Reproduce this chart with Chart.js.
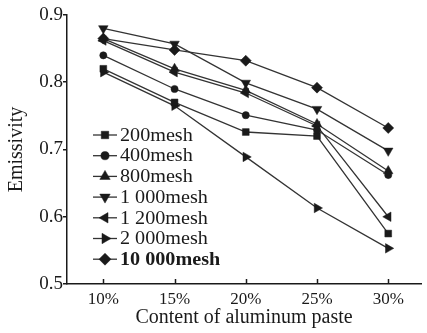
<!DOCTYPE html>
<html>
<head>
<meta charset="utf-8">
<script src="https://cdn.jsdelivr.net/npm/chart.js@4/dist/chart.umd.min.js"></script>
<style>
  html, body { margin: 0; padding: 0; background: #fff; overflow: hidden; }
</style>
</head>
<body>
<canvas id="chart" width="427" height="333"></canvas>
<script>
// content of aluminum paste (%)
const contents = [10, 15, 20, 25, 30];
const yTicks = [0.5, 0.6, 0.7, 0.8, 0.9];

const meshLabels = ['200mesh', '400mesh', '800mesh', '1 000mesh', '1 200mesh', '2 000mesh', '10 000mesh'];

// emissivity per mesh size
const mesh200   = [0.820, 0.770, 0.726, 0.720, 0.575];
const mesh400   = [0.840, 0.790, 0.751, 0.729, 0.662];
const mesh800   = [0.865, 0.820, 0.788, 0.738, 0.668];
const mesh1000  = [0.880, 0.857, 0.799, 0.760, 0.698];
const mesh1200  = [0.862, 0.815, 0.784, 0.735, 0.600];
const mesh2000  = [0.815, 0.765, 0.689, 0.613, 0.553];
const mesh10000 = [0.865, 0.848, 0.832, 0.792, 0.732];

const seriesList = [mesh200, mesh400, mesh800, mesh1000, mesh1200, mesh2000, mesh10000];

// marker look for each series (same order as above)
const markers = [
  { pointStyle: 'rect', radius: 4.8, rotation: 0 },
  { pointStyle: 'circle', radius: 3.6, rotation: 0 },
  { pointStyle: 'triangle', radius: 5.5, rotation: 0 },
  { pointStyle: 'triangle', radius: 5.5, rotation: 180 },
  { pointStyle: 'triangle', radius: 5.5, rotation: -90 },
  { pointStyle: 'triangle', radius: 5.5, rotation: 90 },
  { pointStyle: 'rectRot', radius: 5.5, rotation: 0 },
];

const INK = '#1a1a1a';
const SERIF = '"Liberation Serif", "Times New Roman", serif';

const datasets = seriesList.map((vals, i) => ({
  label: meshLabels[i],
  data: contents.map((x, j) => ({ x: x, y: vals[j] })),
  borderColor: '#333',
  borderWidth: 1.3,
  backgroundColor: INK,
  pointBackgroundColor: INK,
  pointBorderColor: INK,
  pointBorderWidth: 0.5,
  pointStyle: markers[i].pointStyle,
  pointRadius: markers[i].radius,
  pointRotation: markers[i].rotation,
  tension: 0,
  clip: false,
}));

// small inward ticks on the x axis + the legend with line/marker samples
const extras = {
  id: 'extras',
  afterDraw(chart) {
    const ctx = chart.ctx;
    const xs = chart.scales.x;
    const bottom = chart.chartArea.bottom;
    ctx.save();
    ctx.strokeStyle = INK;
    ctx.lineWidth = 1.5;
    contents.forEach(v => {
      const px = Math.round(xs.getPixelForValue(v)) + 0.5;
      ctx.beginPath();
      ctx.moveTo(px, bottom);
      ctx.lineTo(px, bottom - 5);
      ctx.stroke();
    });

    // legend
    const x0 = 93, rowH = 20.7, y0 = 135;
    meshLabels.forEach((lab, i) => {
      const y = y0 + i * rowH;
      ctx.strokeStyle = '#333';
      ctx.lineWidth = 1.3;
      ctx.beginPath();
      ctx.moveTo(x0, y);
      ctx.lineTo(x0 + 24, y);
      ctx.stroke();
      ctx.fillStyle = INK;
      ctx.strokeStyle = INK;
      ctx.lineWidth = 0.5;
      Chart.helpers.drawPoint(ctx, {
        pointStyle: markers[i].pointStyle,
        radius: markers[i].radius + 0.5,
        rotation: markers[i].rotation,
        borderWidth: 0.5,
      }, x0 + 12, y);
      ctx.fillStyle = INK;
      ctx.font = (i === meshLabels.length - 1 ? 'bold ' : '') + '18px ' + SERIF;
      ctx.textBaseline = 'middle';
      ctx.textAlign = 'left';
      ctx.save();
      ctx.translate(x0 + 27, y + 1);
      ctx.scale(1.12, 1);
      ctx.fillText(lab, 0, 0);
      ctx.restore();
    });
    ctx.restore();
  }
};

new Chart(document.getElementById('chart'), {
  type: 'line',
  data: { datasets: datasets },
  options: {
    responsive: false,
    animation: false,
    layout: { padding: { top: 15, right: 0, left: 0, bottom: 0 } },
    plugins: {
      legend: { display: false },
      tooltip: { enabled: false },
    },
    scales: {
      x: {
        type: 'linear',
        min: 7.45,
        max: 32.3,
        afterBuildTicks: s => { s.ticks = contents.map(v => ({ value: v })); },
        afterFit: s => { s.height = 49; },
        grid: { display: false, drawTicks: false },
        border: { color: INK, width: 1.5 },
        ticks: {
          color: INK,
          padding: 5,
          maxRotation: 0,
          font: { family: SERIF, size: 17 },
          callback: v => v + '%',
        },
        title: {
          display: true,
          text: 'Content of aluminum paste',
          color: INK,
          font: { family: SERIF, size: 20 },
          padding: { top: 0, bottom: 3 },
        },
      },
      y: {
        min: 0.5,
        max: 0.9,
        afterBuildTicks: s => { s.ticks = yTicks.map(v => ({ value: v })); },
        afterFit: s => { s.width = 67; },
        grid: { drawOnChartArea: false, tickLength: 4, color: INK, lineWidth: 1.5 },
        border: { color: INK, width: 1.5 },
        ticks: {
          color: INK,
          padding: 0,
          font: { family: SERIF, size: 19 },
          callback: v => v.toFixed(1),
        },
        title: {
          display: true,
          text: 'Emissivity',
          color: INK,
          font: { family: SERIF, size: 20 },
          padding: { top: 5, bottom: 0 },
        },
      },
    },
  },
  plugins: [extras],
});
</script>
</body>
</html>
